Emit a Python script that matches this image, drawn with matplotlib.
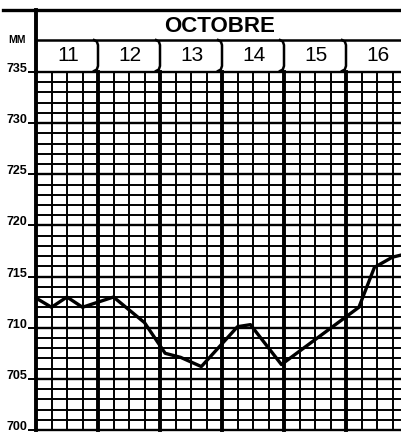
import matplotlib.pyplot as plt
import numpy as np

# barogramme, octobre 11 -> 16, pression en mm
month = 'OCTOBRE'
days = ['11', '12', '13', '14', '15', '16']
y_ticks = [700, 705, 710, 715, 720, 725, 730, 735]

# hours counted from 11 octobre 00h
hours = [0, 6, 12, 18, 30, 42, 50, 56, 64, 78, 83, 95, 125, 131, 138, 141.3]
pressure = [712.9, 712.0, 713.0, 712.0, 713.0, 710.5, 707.5, 707.1, 706.2,
            710.1, 710.3, 706.4, 712.0, 715.9, 716.9, 717.1]

W, H = 401, 433
x_end = (W - 36) * 24 / 62  # hours visible up to the right edge

fig = plt.figure(figsize=(W / 100, H / 100), dpi=100)
fig.patch.set_facecolor('white')

ax = fig.add_axes([36 / W, 3 / H, (W - 36) / W, 358 / H])
ax.set_xlim(0, x_end)
ax.set_ylim(700, 735)
for s in ax.spines.values():
    s.set_visible(False)
ax.set_xticks([])
ax.set_yticks(y_ticks)
ax.set_yticklabels([str(v) for v in y_ticks])
ax.tick_params(axis='y', direction='out', length=6, width=1.4, pad=0.5,
               labelsize=9, color='black')
for lab in ax.get_yticklabels():
    lab.set_fontweight('bold')
    lab.set_family('Liberation Sans')
    lab.set_va('baseline')

# millimetre grid, a bit heavier every 5 mm
for mm in range(700, 736):
    ax.axhline(mm, color='black', lw=1.7 if mm % 5 == 0 else 1.4, clip_on=False, zorder=1)
# 6 hour grid, thick at each day
for h in range(0, int(x_end) + 1, 6):
    ax.axvline(h, color='black', lw=2.8 if h % 24 == 0 else 1.4, clip_on=False, zorder=1)

ax.plot(hours, pressure, color='black', lw=2.4, solid_joinstyle='round',
        solid_capstyle='round', clip_on=False, zorder=3)

# header with month and day names, y in pixels from top
hx = fig.add_axes([36 / W, 1 - 72 / H, (W - 36) / W, 62 / H])
hx.set_xlim(0, x_end)
hx.set_ylim(72, 10)
hx.axis('off')
px = 24 / 62  # one pixel in hours
hx.plot([-33 * px, x_end], [10, 10], color='black', lw=2.4, clip_on=False)
hx.plot([0, 0], [10, 72], color='black', lw=2.8, clip_on=False)
hx.plot([0, x_end], [39.5, 39.5], color='black', lw=1.8, clip_on=False)

hx.text(x_end / 2 + 0.5, 26, month, ha='center', va='center', fontsize=16,
        fontweight='bold', family='Liberation Sans')

for i, d in enumerate(days):
    hx.text(24 * i + 12.4, 55.5, d, ha='center', va='center', fontsize=15,
            family='Liberation Sans')
    if i > 0:
        bx = 24 * i
        hx.plot([bx - 4 * px, bx - 1.2 * px, bx, bx, bx - 1.2 * px, bx - 4 * px],
                [40, 41.5, 45, 66, 69.5, 71],
                color='black', lw=1.8, clip_on=False, solid_joinstyle='round')

fig.text(17 / W, 1 - 40 / H, 'MM', ha='center', va='center', fontsize=7.5,
         fontweight='bold', family='Liberation Sans')

fig.savefig('out.png', dpi=100, facecolor='white')
